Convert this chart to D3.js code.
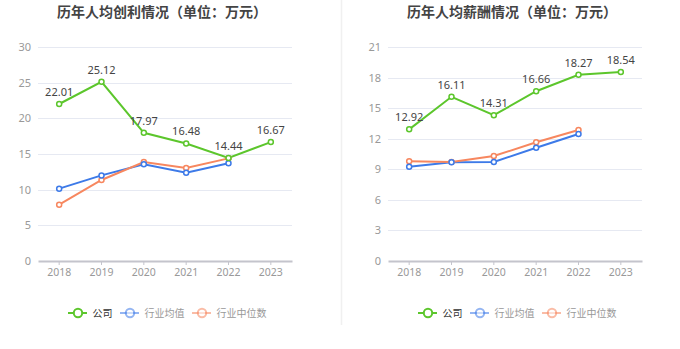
<!DOCTYPE html>
<html>
<head>
<meta charset="utf-8">
<script src="https://cdn.jsdelivr.net/npm/d3@7"></script>
<style>
  body { margin: 0; background: #fff; }
  svg { display: block; font-family: "Noto Sans CJK SC", "Noto Sans", sans-serif; }
</style>
</head>
<body>
<svg id="chart" width="680" height="349"></svg>
<script>
var years = ["2018", "2019", "2020", "2021", "2022", "2023"];
var seriesNames = ["公司", "行业均值", "行业中位数"];

// 人均创利
var profitCompany = [22.01, 25.12, 17.97, 16.48, 14.44, 16.67];
var profitAvg = [10.14, 12.0, 13.55, 12.38, 13.69];
var profitMedian = [7.9, 11.36, 13.88, 13.04, 14.39];
var profitTicks = [0, 5, 10, 15, 20, 25, 30];

// 人均薪酬
var salaryCompany = [12.92, 16.11, 14.31, 16.66, 18.27, 18.54];
var salaryAvg = [9.25, 9.68, 9.71, 11.12, 12.46];
var salaryMedian = [9.78, 9.71, 10.3, 11.65, 12.86];
var salaryTicks = [0, 3, 6, 9, 12, 15, 18, 21];

var colors = ["#5cc62c", "#3d7ae8", "#f7875f"];

var svg = d3.select("#chart");

// divider between the two panels
svg.append("line")
  .attr("x1", 341.5).attr("x2", 341.5)
  .attr("y1", 0).attr("y2", 325)
  .attr("stroke", "#f0f0f0").attr("stroke-width", 1.5);

function drawPanel(dx, title, company, avg, median, ticks) {
  var g = svg.append("g").attr("transform", "translate(" + dx + ",0)");
  var left = 38, right = 292, top = 47, bottom = 261;

  var x = d3.scaleBand().domain(years).range([left, right]);
  var y = d3.scaleLinear().domain([0, d3.max(ticks)]).range([bottom, top]);
  var cx = function(i) { return x(years[i]) + x.bandwidth() / 2; };

  g.append("text")
    .attr("x", 162).attr("y", 17)
    .attr("text-anchor", "middle")
    .style("font-size", "14px").style("font-weight", "bold")
    .style("fill", "#444")
    .text(title);

  // grid
  g.selectAll(".grid").data(ticks.slice(1)).enter()
    .append("line")
    .attr("x1", left).attr("x2", right)
    .attr("y1", function(d) { return Math.round(y(d)) + 0.5; })
    .attr("y2", function(d) { return Math.round(y(d)) + 0.5; })
    .attr("stroke", "#e6e9f2");

  var yAxis = g.append("g")
    .attr("transform", "translate(" + left + ",0)")
    .call(d3.axisLeft(y).tickValues(ticks).tickSize(0).tickPadding(7));
  yAxis.select(".domain").remove();
  yAxis.selectAll("text").style("font-size", "11px").style("fill", "#999")
    .style("font-family", "'Noto Sans', sans-serif");

  var xAxis = g.append("g")
    .attr("transform", "translate(0," + bottom + ")")
    .call(d3.axisBottom(x).tickSize(4).tickPadding(4).tickSizeOuter(0));
  xAxis.select(".domain").attr("stroke", "#c4c4cc").attr("stroke-width", 2);
  xAxis.selectAll("line").attr("stroke", "#c4c4cc");
  xAxis.selectAll("text").style("font-size", "10.5px").style("fill", "#999")
    .style("font-family", "'Noto Sans', sans-serif");

  var line = d3.line()
    .x(function(d, i) { return cx(i); })
    .y(function(d) { return y(d); });

  [company, avg, median].forEach(function(vals, s) {
    g.append("path")
      .attr("d", line(vals))
      .attr("fill", "none")
      .attr("stroke", colors[s])
      .attr("stroke-width", 2);
  });

  // markers drawn after lines so company sits on top
  [median, avg, company].forEach(function(vals, k) {
    var s = 2 - k;
    g.selectAll(null).data(vals).enter()
      .append("circle")
      .attr("cx", function(d, i) { return cx(i); })
      .attr("cy", function(d) { return y(d); })
      .attr("r", 2.5)
      .attr("fill", "#fff")
      .attr("stroke", colors[s])
      .attr("stroke-width", 1.5);
  });

  g.selectAll(".lbl").data(company).enter()
    .append("text")
    .attr("x", function(d, i) { return cx(i); })
    .attr("y", function(d) { return y(d) - 8; })
    .attr("text-anchor", "middle")
    .style("font-size", "11px").style("fill", "#444")
    .style("font-family", "'Noto Sans', sans-serif")
    .text(function(d) { return d.toFixed(2); });

  // legend
  var legendX = [68, 120, 192];
  seriesNames.forEach(function(name, s) {
    var lg = g.append("g").attr("transform", "translate(" + legendX[s] + ",313)");
    var op = s === 0 ? 1 : 0.55;
    lg.append("line").attr("x1", 0).attr("x2", 19).attr("y1", 0).attr("y2", 0)
      .attr("stroke", colors[s]).attr("stroke-width", 2).attr("opacity", op);
    lg.append("circle").attr("cx", 10).attr("cy", 0).attr("r", 4.2)
      .attr("fill", "#fff").attr("stroke", colors[s]).attr("stroke-width", 2)
      .attr("opacity", op);
    lg.append("text").attr("x", 24.5).attr("y", 3.5)
      .style("font-size", "10px")
      .style("fill", s === 0 ? "#333" : "#999")
      .text(name);
  });
}

drawPanel(0, "历年人均创利情况（单位：万元）", profitCompany, profitAvg, profitMedian, profitTicks);
drawPanel(350, "历年人均薪酬情况（单位：万元）", salaryCompany, salaryAvg, salaryMedian, salaryTicks);
</script>
</body>
</html>
